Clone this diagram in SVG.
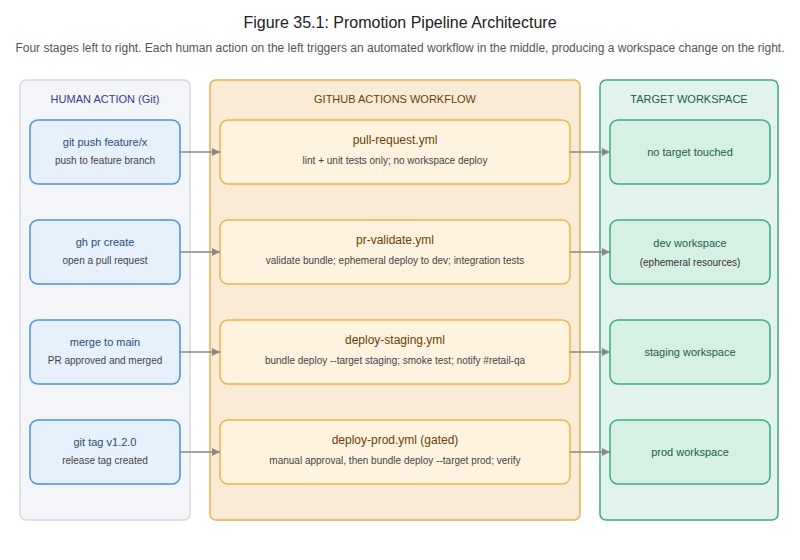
<svg xmlns="http://www.w3.org/2000/svg" width="800" height="560" viewBox="0 0 800 560">
<defs>
<marker id="arr" markerWidth="10" markerHeight="10" refX="8" refY="4" orient="auto" markerUnits="userSpaceOnUse">
<path d="M0,0 L8,4 L0,8 Z" fill="#888888"/>
</marker>
<style>
text{font-family:"Liberation Sans",Arial,Helvetica,sans-serif;text-anchor:middle}
.title{font-size:16px;fill:#222222}
.sub{font-size:12px;fill:#555555}
.lt{font-size:11px}
.hn rect{fill:#e7f1fc;stroke:#4a90e2;stroke-width:1.5}
.wn rect{fill:#fff3e0;stroke:#f5b04a;stroke-width:1.5}
.tn rect{fill:#d6f0e4;stroke:#3fa882;stroke-width:1.5}
.hn .t{font-size:11px;fill:#1f4e79}
.wn .t{font-size:12px;fill:#6b3d0a}
.tn .t{font-size:11px;fill:#1d5e45}
.s{font-size:10px;fill:#444444}
.tn .s{fill:#333333}
.conn line{stroke:#888888;stroke-width:1.5;marker-end:url(#arr)}
</style>
</defs>
<rect width="800" height="560" fill="#ffffff"/>
<text class="title" x="400" y="28">Figure 35.1: Promotion Pipeline Architecture</text>
<text class="sub" x="400" y="52">Four stages left to right. Each human action on the left triggers an automated workflow in the middle, producing a workspace change on the right.</text>

<g id="lane-human">
<rect x="20" y="80" width="170" height="440" rx="6" fill="#f3f5f8" stroke="#d5d9df" stroke-width="1.5"/>
<text class="lt" x="105" y="103" fill="#3b3a8c">HUMAN ACTION (Git)</text>
</g>
<g id="lane-workflow">
<rect x="210" y="80" width="370" height="440" rx="6" fill="#faebd7" stroke="#f0ad4e" stroke-width="1.5"/>
<text class="lt" x="395" y="103" fill="#6b3d0a">GITHUB ACTIONS WORKFLOW</text>
</g>
<g id="lane-target">
<rect x="600" y="80" width="178" height="440" rx="6" fill="#e1f3ec" stroke="#3fa882" stroke-width="1.5"/>
<text class="lt" x="689" y="103" fill="#1d5e45">TARGET WORKSPACE</text>
</g>

<g id="h1" class="hn"><rect x="30" y="120" width="150" height="64" rx="8"/><text class="t" x="105" y="145.5">git push feature/x</text><text class="s" x="105" y="164">push to feature branch</text></g>
<g id="h2" class="hn"><rect x="30" y="220" width="150" height="64" rx="8"/><text class="t" x="105" y="245.5">gh pr create</text><text class="s" x="105" y="264">open a pull request</text></g>
<g id="h3" class="hn"><rect x="30" y="320" width="150" height="64" rx="8"/><text class="t" x="105" y="345.5">merge to main</text><text class="s" x="105" y="364">PR approved and merged</text></g>
<g id="h4" class="hn"><rect x="30" y="420" width="150" height="64" rx="8"/><text class="t" x="105" y="445.5">git tag v1.2.0</text><text class="s" x="105" y="464">release tag created</text></g>

<g id="w1" class="wn"><rect x="220" y="120" width="350" height="64" rx="8"/><text class="t" x="395" y="143.5">pull-request.yml</text><text class="s" x="395" y="164">lint + unit tests only; no workspace deploy</text></g>
<g id="w2" class="wn"><rect x="220" y="220" width="350" height="64" rx="8"/><text class="t" x="395" y="243.5">pr-validate.yml</text><text class="s" x="395" y="264">validate bundle; ephemeral deploy to dev; integration tests</text></g>
<g id="w3" class="wn"><rect x="220" y="320" width="350" height="64" rx="8"/><text class="t" x="395" y="343.5">deploy-staging.yml</text><text class="s" x="395" y="364">bundle deploy --target staging; smoke test; notify #retail-qa</text></g>
<g id="w4" class="wn"><rect x="220" y="420" width="350" height="64" rx="8"/><text class="t" x="395" y="443.5">deploy-prod.yml (gated)</text><text class="s" x="395" y="464">manual approval, then bundle deploy --target prod; verify</text></g>

<g id="t1" class="tn"><rect x="610" y="120" width="160" height="64" rx="8"/><text class="t" x="690" y="155.5">no target touched</text></g>
<g id="t2" class="tn"><rect x="610" y="220" width="160" height="64" rx="8"/><text class="t" x="690" y="247">dev workspace</text><text class="s" x="690" y="265.5">(ephemeral resources)</text></g>
<g id="t3" class="tn"><rect x="610" y="320" width="160" height="64" rx="8"/><text class="t" x="690" y="355.5">staging workspace</text></g>
<g id="t4" class="tn"><rect x="610" y="420" width="160" height="64" rx="8"/><text class="t" x="690" y="455.5">prod workspace</text></g>

<g id="connectors" class="conn">
<line x1="180" y1="152" x2="220" y2="152"/>
<line x1="180" y1="252" x2="220" y2="252"/>
<line x1="180" y1="352" x2="220" y2="352"/>
<line x1="180" y1="452" x2="220" y2="452"/>
<line x1="570" y1="152" x2="610" y2="152"/>
<line x1="570" y1="252" x2="610" y2="252"/>
<line x1="570" y1="352" x2="610" y2="352"/>
<line x1="570" y1="452" x2="610" y2="452"/>
</g>
</svg>
